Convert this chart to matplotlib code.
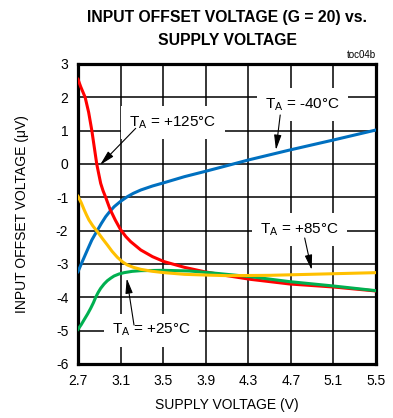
import numpy as np
import matplotlib
matplotlib.use("Agg")
import matplotlib.pyplot as plt

plt.rcParams['font.family'] = ['Liberation Sans', 'DejaVu Sans']
plt.rcParams['mathtext.default'] = 'regular'

# supply voltage (V) / offset (uV) per temperature
v_125 = [2.70, 2.725, 2.767, 2.80, 2.83, 2.853, 2.876, 2.895, 2.913, 2.935, 2.96, 3.00, 3.05, 3.10, 3.15, 3.195, 3.29, 3.40, 3.51, 3.70, 3.885, 4.10, 4.32, 4.69, 5.10, 5.50]
vos_125 = [2.54, 2.32, 2.0, 1.55, 1.0, 0.5, 0.0, -0.3, -0.58, -0.8, -1.0, -1.35, -1.68, -1.97, -2.18, -2.33, -2.58, -2.78, -2.93, -3.10, -3.23, -3.35, -3.46, -3.60, -3.69, -3.81]

v_85 = [2.70, 2.73, 2.756, 2.78, 2.803, 2.84, 2.882, 2.93, 2.976, 3.02, 3.07, 3.12, 3.164, 3.22, 3.29, 3.40, 3.51, 3.70, 3.885, 4.10, 4.50, 5.00, 5.50]
vos_85 = [-0.97, -1.16, -1.36, -1.53, -1.68, -1.86, -2.03, -2.24, -2.43, -2.62, -2.80, -2.94, -3.03, -3.10, -3.16, -3.22, -3.26, -3.31, -3.33, -3.35, -3.34, -3.30, -3.26]

v_25 = [2.70, 2.73, 2.756, 2.79, 2.819, 2.845, 2.866, 2.89, 2.913, 2.945, 2.976, 3.01, 3.039, 3.085, 3.133, 3.21, 3.29, 3.50, 3.75, 4.00, 4.32, 4.69, 5.10, 5.50]
vos_25 = [-4.96, -4.82, -4.68, -4.50, -4.33, -4.16, -4.00, -3.85, -3.73, -3.60, -3.50, -3.42, -3.36, -3.30, -3.26, -3.22, -3.20, -3.19, -3.21, -3.28, -3.38, -3.53, -3.66, -3.80]

v_m40 = [2.70, 2.74, 2.788, 2.83, 2.88, 2.92, 2.96, 3.00, 3.04, 3.10, 3.164, 3.22, 3.29, 3.40, 3.51, 3.70, 3.885, 4.10, 4.30, 4.69, 5.10, 5.50]
vos_m40 = [-3.23, -2.93, -2.58, -2.28, -2.0, -1.78, -1.58, -1.42, -1.28, -1.12, -0.98, -0.88, -0.78, -0.66, -0.56, -0.38, -0.23, -0.05, 0.12, 0.42, 0.72, 1.02]

xticks = [2.7, 3.1, 3.5, 3.9, 4.3, 4.7, 5.1, 5.5]
yticks = [3, 2, 1, 0, -1, -2, -3, -4, -5, -6]

fig = plt.figure(figsize=(3.93, 4.18), dpi=100)
ax = fig.add_axes([0.1985, 0.1292, 0.7582, 0.7177])

ax.plot(v_m40, vos_m40, color='#0070c0', lw=2.2, zorder=3)
ax.plot(v_125, vos_125, color='#ff0000', lw=2.2, zorder=3)
ax.plot(v_25, vos_25, color='#00b050', lw=2.2, zorder=3)
ax.plot(v_85, vos_85, color='#ffc000', lw=2.2, zorder=3)

ax.set_xlim(2.7, 5.5)
ax.set_ylim(-6, 3)
ax.set_xticks(xticks)
ax.set_yticks(yticks)
ax.set_xticklabels([f'{t:.1f}' for t in xticks])
ax.set_yticklabels([str(t) for t in yticks])
ax.tick_params(length=0, labelsize=10, pad=7)
ax.grid(True, color='black', lw=1.1, zorder=1)
ax.set_axisbelow(True)
for s in ax.spines.values():
    s.set_linewidth(2.3)

box = dict(boxstyle='square,pad=0.55', fc='white', ec='none')
arr = dict(arrowstyle='-|>,head_length=0.9,head_width=0.22', color='black', lw=0.8,
           shrinkA=0, shrinkB=0)

# labels: (text, text x, text baseline y, arrow start, arrow tip)
labels = [
    ('T$_A$ = +125°C', 3.59, 1.12, (3.242, 1.07), (2.907, -0.03)),
    ('T$_A$ = -40°C', 4.81, 1.67, (4.60, 1.47), (4.56, 0.42)),
    ('T$_A$ = +85°C', 4.78, -2.08, (4.83, -2.22), (4.896, -3.18)),
    ('T$_A$ = +25°C', 3.39, -5.10, (3.226, -4.83), (3.158, -3.43)),
]
for txt, tx, ty, start, tip in labels:
    ax.text(tx, ty, txt, ha='center', va='baseline', fontsize=11, bbox=box, zorder=5)
    ax.annotate('', xy=tip, xytext=start, arrowprops=arr, zorder=6)

ax.text(1.0, 1.012, 'toc04b', transform=ax.transAxes, ha='right', va='bottom', fontsize=7)

fig.text(0.578, 0.959, 'INPUT OFFSET VOLTAGE (G = 20) vs.', ha='center', va='center',
         fontsize=11.3, fontweight='bold')
fig.text(0.578, 0.904, 'SUPPLY VOLTAGE', ha='center', va='center',
         fontsize=11.3, fontweight='bold')
fig.text(0.578, 0.031, 'SUPPLY VOLTAGE (V)', ha='center', va='center', fontsize=10)
fig.text(0.056, 0.488, 'INPUT OFFSET VOLTAGE (μV)', ha='center', va='center', rotation=90, fontsize=10)

fig.savefig('out.png', dpi=100)
